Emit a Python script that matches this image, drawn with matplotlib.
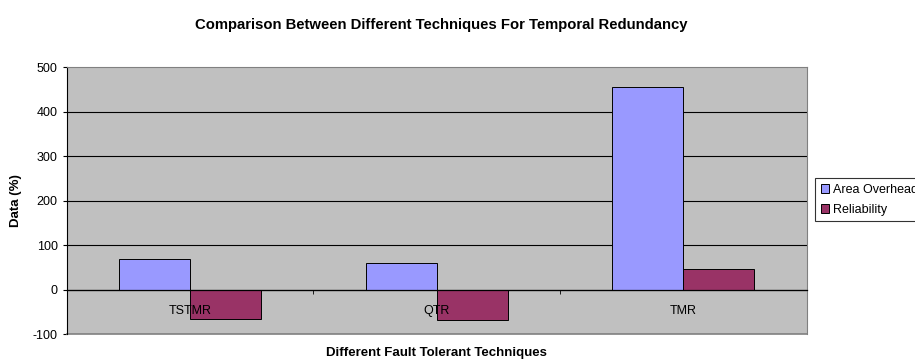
import matplotlib.pyplot as plt
import numpy as np

plt.rcParams['font.family'] = ['Liberation Sans', 'DejaVu Sans']
plt.rcParams['axes.unicode_minus'] = False

techniques = ["TSTMR", "QTR", "TMR"]
area_overhead = [69, 59, 456]
reliability = [-66, -69, 47]
series_names = ["Area Overhead", "Reliability"]
colors = ["#9999FF", "#993366"]
y_ticks = [-100, 0, 100, 200, 300, 400, 500]

fig = plt.figure(figsize=(9.15, 3.64), dpi=100)
ax = fig.add_axes([0.0729, 0.0824, 0.8087, 0.7326])
ax.set_facecolor("#C0C0C0")

# gridlines under the bars, tick labels stay on top
for yv in y_ticks[1:-1]:
    ax.axhline(yv, color="black", linewidth=0.8, zorder=0.5)

x = np.arange(len(techniques))
w = 0.288
ax.bar(x - w / 2, area_overhead, w, color=colors[0], edgecolor="black", linewidth=0.7,
       label=series_names[0], zorder=1)
ax.bar(x + w / 2, reliability, w, color=colors[1], edgecolor="black", linewidth=0.7,
       label=series_names[1], zorder=1)

ax.set_xlim(-0.5, len(techniques) - 0.5)
ax.set_ylim(-100, 500)
ax.set_yticks(y_ticks)

# category axis crosses at zero
ax.spines['bottom'].set_position(('data', 0))
ax.spines['bottom'].set_color("black")
ax.spines['bottom'].set_linewidth(0.9)
ax.spines['left'].set_color("black")
ax.spines['top'].set_color("#808080")
ax.spines['right'].set_color("#808080")
ax.set_xticks(x)
ax.set_xticklabels(techniques, fontsize=9)
ax.tick_params(axis='x', length=0, pad=11)
ax.set_xticks(np.arange(0.5, len(techniques) - 0.5, 1), minor=True)
ax.tick_params(axis='x', which='minor', length=3, direction='out', color="black")
ax.tick_params(axis='y', labelsize=9, length=3, color="black")

# bottom border of the plot area
ax.plot([0, 1], [0, 0], transform=ax.transAxes, color="#808080", linewidth=1.2, clip_on=False)

ax.set_ylabel("Data (%)", fontsize=9.5, fontweight="bold", labelpad=8)
fig.text(0.4767, 0.022, "Different Fault Tolerant Techniques", ha="center", fontsize=9.5, fontweight="bold")
fig.text(0.482, 0.93, "Comparison Between Different Techniques For Temporal Redundancy",
         ha="center", va="center", fontsize=10.7, fontweight="bold")

leg = ax.legend(loc="upper left", bbox_to_anchor=(0.8907, 0.511), bbox_transform=fig.transFigure,
                fontsize=9, frameon=True, fancybox=False, edgecolor="black",
                handlelength=0.7, handleheight=0.7, handletextpad=0.3, borderpad=0.45,
                labelspacing=0.65, borderaxespad=0)
leg.get_frame().set_linewidth(0.8)

plt.savefig("out.png", dpi=100)
